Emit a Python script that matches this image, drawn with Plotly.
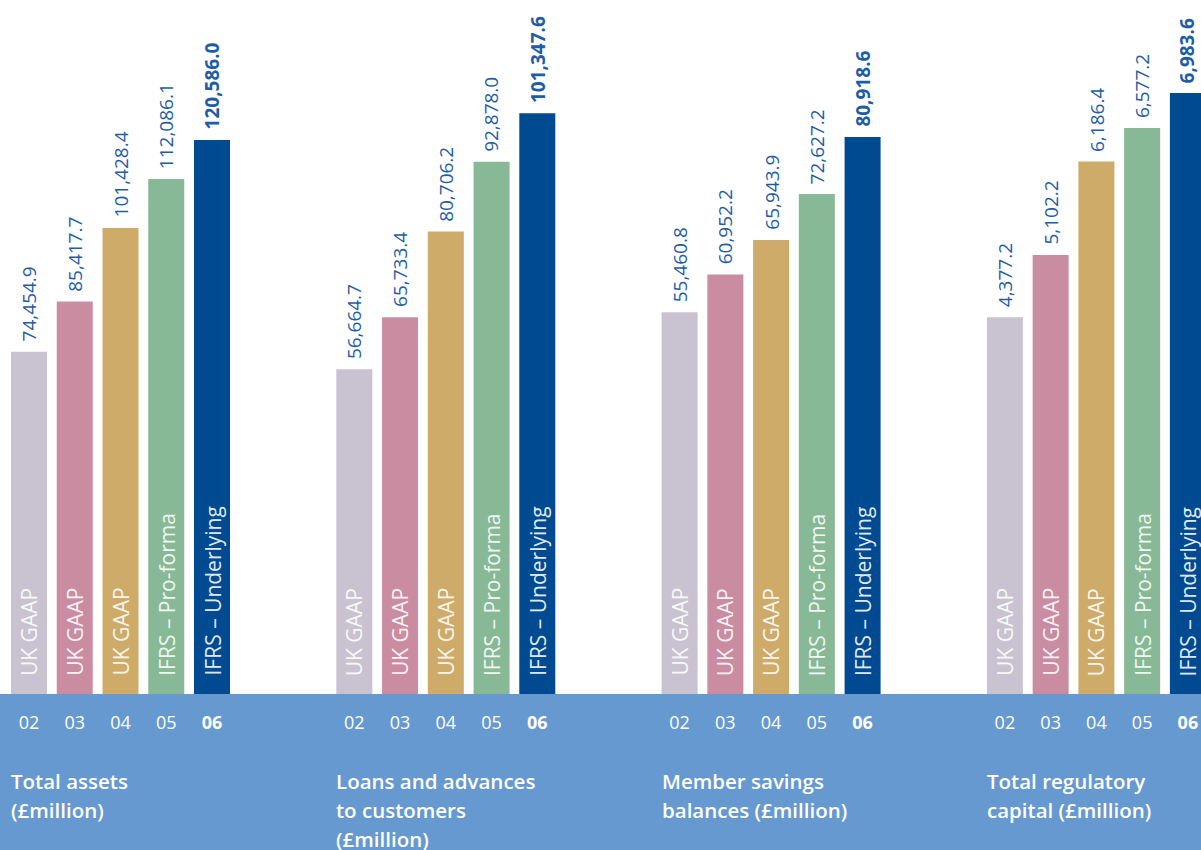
import plotly.graph_objects as go

years = ["02", "03", "04", "05", "06"]
year_labels = ["02", "03", "04", "05", "<b>06</b>"]
basis = ["UK GAAP", "UK GAAP", "UK GAAP", "IFRS – Pro-forma", "IFRS – Underlying"]
bar_colors = ["#C9C2D0", "#C98CA1", "#CEAB68", "#87B996", "#004A91"]

total_assets = [74454.9, 85417.7, 101428.4, 112086.1, 120586.0]
loans_advances = [56664.7, 65733.4, 80706.2, 92878.0, 101347.6]
member_savings = [55460.8, 60952.2, 65943.9, 72627.2, 80918.6]
regulatory_capital = [4377.2, 5102.2, 6186.4, 6577.2, 6983.6]

panel_values = [total_assets, loans_advances, member_savings, regulatory_capital]
panel_titles = [
    ["Total assets", "(£million)"],
    ["Loans and advances", "to customers", "(£million)"],
    ["Member savings", "balances (£million)"],
    ["Total regulatory", "capital (£million)"],
]
y_max = [151030, 121120, 100821, 8064]

W, H = 1201, 850
BASE_PX = 694
FONT = "Open Sans"
band_color = "#6699D0"
value_color = "#1E5CA6"

fig = go.Figure()
layout = dict(
    width=W, height=H, margin=dict(l=0, r=0, t=0, b=0),
    paper_bgcolor="white", plot_bgcolor="white", showlegend=False,
    font=dict(family=FONT),
)
ydom = [(H - BASE_PX) / H, 1]
unit = 45.75
first_center = 29
panel_step = 325.3
annotations = []

for k, vals in enumerate(panel_values):
    sfx = "" if k == 0 else str(k + 1)
    left = first_center + panel_step * k - unit / 2
    right = left + 5 * unit
    rmax = 4.5
    if right > W:
        right = W
        rmax = -0.5 + (W - left) / unit
    xs = list(range(5))
    fig.add_trace(go.Bar(
        x=xs, y=vals, marker=dict(color=bar_colors, line=dict(width=0)),
        xaxis="x" + sfx, yaxis="y" + sfx, hoverinfo="skip", width=0.787,
    ))
    layout["xaxis" + sfx] = dict(
        domain=[left / W, right / W], range=[-0.5, rmax], anchor="y" + sfx,
        tickmode="array", tickvals=xs, ticktext=year_labels,
        tickfont=dict(family=FONT, size=18, color="white"),
        ticks="", ticklabelstandoff=16, showgrid=False, zeroline=False,
        showline=False, fixedrange=True,
    )
    layout["yaxis" + sfx] = dict(
        domain=ydom, range=[0, y_max[k]], anchor="x" + sfx,
        visible=False, showgrid=False, zeroline=False, fixedrange=True,
    )
    for i, v in enumerate(vals):
        txt = f"{v:,.1f}"
        if i == 4:
            txt = f"<b>{txt}</b>"
        annotations.append(dict(
            x=i, y=v, xref="x" + sfx, yref="y" + sfx, text=txt, textangle=-90,
            showarrow=False, xanchor="center", yanchor="bottom", yshift=8,
            font=dict(family=FONT, size=19, color=value_color),
        ))
        annotations.append(dict(
            x=i, y=0, xref="x" + sfx, yref="y" + sfx, text=basis[i], textangle=-90,
            showarrow=False, xanchor="center", yanchor="bottom", yshift=16,
            font=dict(family=FONT, size=21, color="rgba(255,255,255,0.9)"),
        ))
    tx = (first_center + panel_step * k - 20) / W
    for j, line in enumerate(panel_titles[k]):
        annotations.append(dict(
            x=tx, y=(H - (781 + 29 * j)) / H, xref="paper", yref="paper",
            text=line, showarrow=False, xanchor="left", yanchor="middle",
            font=dict(family=FONT, size=20.5, color="white", weight=600),
        ))

layout["annotations"] = annotations
layout["shapes"] = [dict(
    type="rect", xref="paper", yref="paper", x0=0, x1=1, y0=0, y1=(H - BASE_PX) / H,
    fillcolor=band_color, line=dict(width=0), layer="below",
)]
fig.update_layout(**layout)
fig.write_html(
    "out.html",
    config={"displayModeBar": False},
    post_script="document.body.style.margin='0px';document.body.style.overflow='hidden';",
)
